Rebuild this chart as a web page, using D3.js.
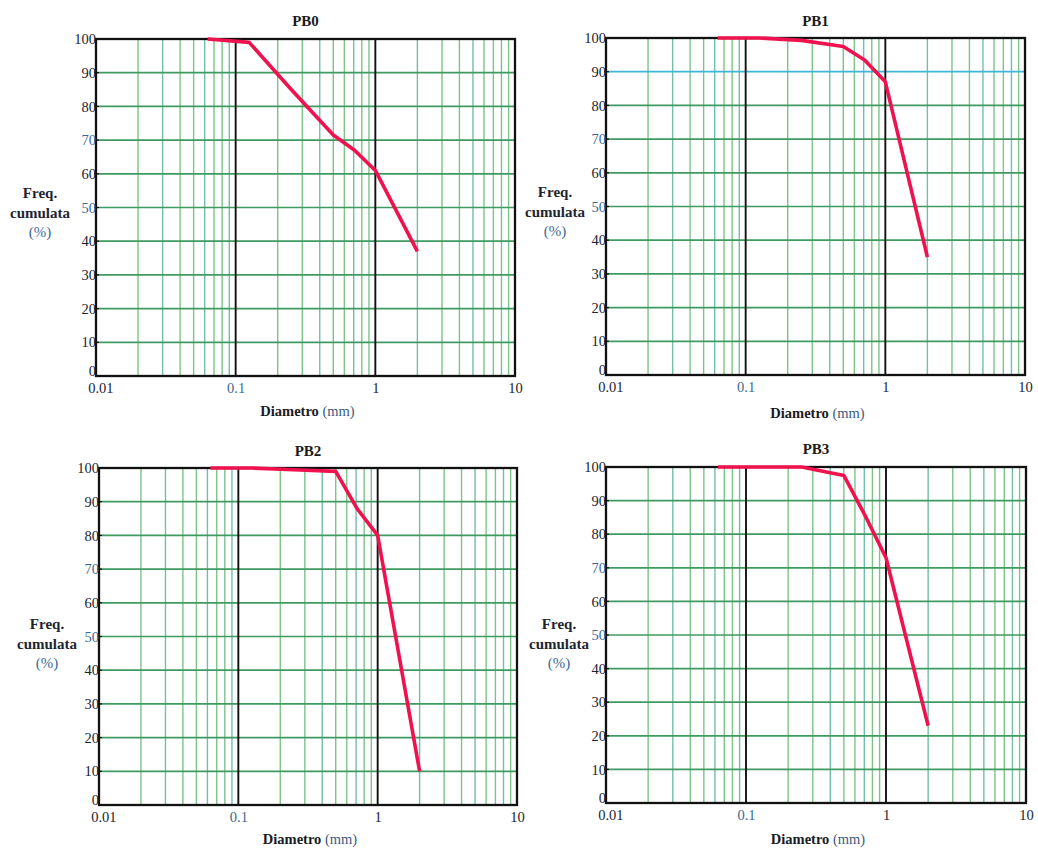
<!DOCTYPE html>
<html>
<head>
<meta charset="utf-8">
<script src="https://cdn.jsdelivr.net/npm/d3@7"></script>
<style>
  html, body { margin: 0; padding: 0; background: #ffffff; }
  svg { display: block; }
  text { font-family: "Liberation Serif", "DejaVu Serif", serif; }
</style>
</head>
<body>
<svg id="chart" width="1038" height="849"></svg>
<script>
// ---- data ----
const panelNames = ["PB0", "PB1", "PB2", "PB3"];
const sieveSizes = [0.063, 0.125, 0.25, 0.5, 0.71, 1, 2];           // mm
const pb0Values = [100, 99, 85, 71.5, 67, 61, 37];                    // cumulative %
const pb1Values = [100, 100, 99.3, 97.5, 93.5, 87, 35];
const pb2Values = [100, 100, 99.5, 99, 88, 80, 10];
const pb3Values = [100, 100, 100, 97.5, 85.5, 73, 23];
const xTickLabels = ["0.01", "0.1", "1", "10"];
const xTickValues = [0.01, 0.1, 1, 10];
const yTickValues = [0, 10, 20, 30, 40, 50, 60, 70, 80, 90, 100];
const xAxisTitle = "Diametro";
const xAxisUnit = "(mm)";
const yAxisTitle = ["Freq.", "cumulata", "(%)"];

const seriesValues = [pb0Values, pb1Values, pb2Values, pb3Values];

// ---- layout (positions only) ----
const layout = [
  { left: 96,  right: 515,  top: 39,  bottom: 376, titleY: 26,  ylabX: 40,  ylabY: 193, xlabY: 416 },
  { left: 606, right: 1025, top: 38,  bottom: 375, titleY: 26,  ylabX: 555, ylabY: 192, xlabY: 418 },
  { left: 99,  right: 517,  top: 468, bottom: 805, titleY: 456, ylabX: 47,  ylabY: 624, xlabY: 844 },
  { left: 606, right: 1026, top: 467, bottom: 803, titleY: 454, ylabX: 559, ylabY: 624, xlabY: 844 }
];

const svg = d3.select("#chart");

const minorColor = "#7cc487";
const minorColor2 = "#72bfa8";
const majorHColor = "#3f9a62";
const lineColor = "#f0124e";

panelNames.forEach((name, i) => {
  const L = layout[i];
  const vals = seriesValues[i];
  const x = d3.scaleLog().domain([0.01, 10]).range([L.left, L.right]);
  const y = d3.scaleLinear().domain([0, 100]).range([L.bottom, L.top]);
  const g = svg.append("g");

  // minor vertical gridlines (2..9 of each decade)
  const minor = [];
  [0.01, 0.1, 1].forEach(d => { for (let k = 2; k <= 9; k++) minor.push(d * k); });
  g.append("g").selectAll("line").data(minor).join("line")
    .attr("x1", d => x(d)).attr("x2", d => x(d))
    .attr("y1", y(0)).attr("y2", y(100))
    .attr("stroke", (d, j) => (j % 3 === 1 ? minorColor2 : minorColor))
    .attr("stroke-width", 1.4);

  // horizontal gridlines
  g.append("g").selectAll("line").data(yTickValues.slice(1, -1)).join("line")
    .attr("x1", x(0.01)).attr("x2", x(10))
    .attr("y1", d => y(d)).attr("y2", d => y(d))
    .attr("stroke", (d) => (i === 1 && d === 90 ? "#3fb5d8" : majorHColor))
    .attr("stroke-width", 1.7);

  // decade lines
  g.append("g").selectAll("line").data([0.1, 1]).join("line")
    .attr("x1", d => x(d)).attr("x2", d => x(d))
    .attr("y1", y(0)).attr("y2", y(100))
    .attr("stroke", "#111").attr("stroke-width", 1.9);

  // frame
  g.append("rect")
    .attr("x", x(0.01)).attr("y", y(100))
    .attr("width", x(10) - x(0.01)).attr("height", y(0) - y(100))
    .attr("fill", "none").attr("stroke", "#111").attr("stroke-width", 2.3);

  // small ticks on frame at horizontal gridlines
  g.append("g").selectAll("line").data(yTickValues.slice(1, -1)).join("line")
    .attr("x1", x(0.01) - 2).attr("x2", x(0.01) + 3)
    .attr("y1", d => y(d)).attr("y2", d => y(d))
    .attr("stroke", "#111").attr("stroke-width", 1.2);

  // data line
  const line = d3.line().x(d => x(d[0])).y(d => y(d[1]));
  g.append("path")
    .datum(sieveSizes.map((s, j) => [s, vals[j]]))
    .attr("d", line)
    .attr("fill", "none")
    .attr("stroke", lineColor)
    .attr("stroke-width", 3.6)
    .attr("stroke-linejoin", "round");

  // y axis
  const yAxis = d3.axisLeft(y).tickValues(yTickValues).tickSize(0).tickPadding(0)
    .tickFormat(d3.format("d"));
  const ya = g.append("g").attr("transform", `translate(${L.left},0)`).call(yAxis);
  ya.select(".domain").remove();
  ya.selectAll("text")
    .attr("font-family", "Liberation Serif, serif")
    .attr("font-size", 14.5)
    .attr("dy", d => (d === 0 ? "-0.05em" : "0.32em"))
    .attr("fill", (d) => (d === 50 || d === 70 ? "#3b6894" : "#1b2433"));

  // x axis
  const xAxis = d3.axisBottom(x).tickValues(xTickValues).tickSize(0).tickPadding(7)
    .tickFormat((d, j) => xTickLabels[j]);
  const xa = g.append("g").attr("transform", `translate(0,${L.bottom})`).call(xAxis);
  xa.select(".domain").remove();
  xa.selectAll("text")
    .attr("font-family", "Liberation Serif, serif")
    .attr("font-size", 14.5)
    .attr("dx", d => (d === 0.01 ? "0.3em" : "0"))
    .attr("fill", (d) => (d === 0.1 ? "#3b6894" : "#1b2433"));

  // title
  g.append("text")
    .attr("x", (L.left + L.right) / 2).attr("y", L.titleY)
    .attr("text-anchor", "middle")
    .attr("font-size", 15).attr("font-weight", "bold")
    .attr("fill", "#1a1a1a")
    .text(name);

  // x axis title
  const xt = g.append("text")
    .attr("x", (L.left + L.right) / 2 + 2).attr("y", L.xlabY)
    .attr("text-anchor", "middle")
    .attr("font-size", 14.5);
  xt.append("tspan").attr("font-weight", "bold").attr("fill", "#1a1a24").text(xAxisTitle + " ");
  xt.append("tspan").attr("fill", "#3b5a80").text(xAxisUnit);

  // y axis title
  yAxisTitle.forEach((t, j) => {
    g.append("text")
      .attr("x", L.ylabX).attr("y", L.ylabY + 5 + j * 19.5)
      .attr("text-anchor", "middle")
      .attr("font-size", 15)
      .attr("font-weight", j < 2 ? "bold" : "normal")
      .attr("fill", j < 2 ? "#1e2530" : "#3b6894")
      .text(t);
  });
});
</script>
</body>
</html>
